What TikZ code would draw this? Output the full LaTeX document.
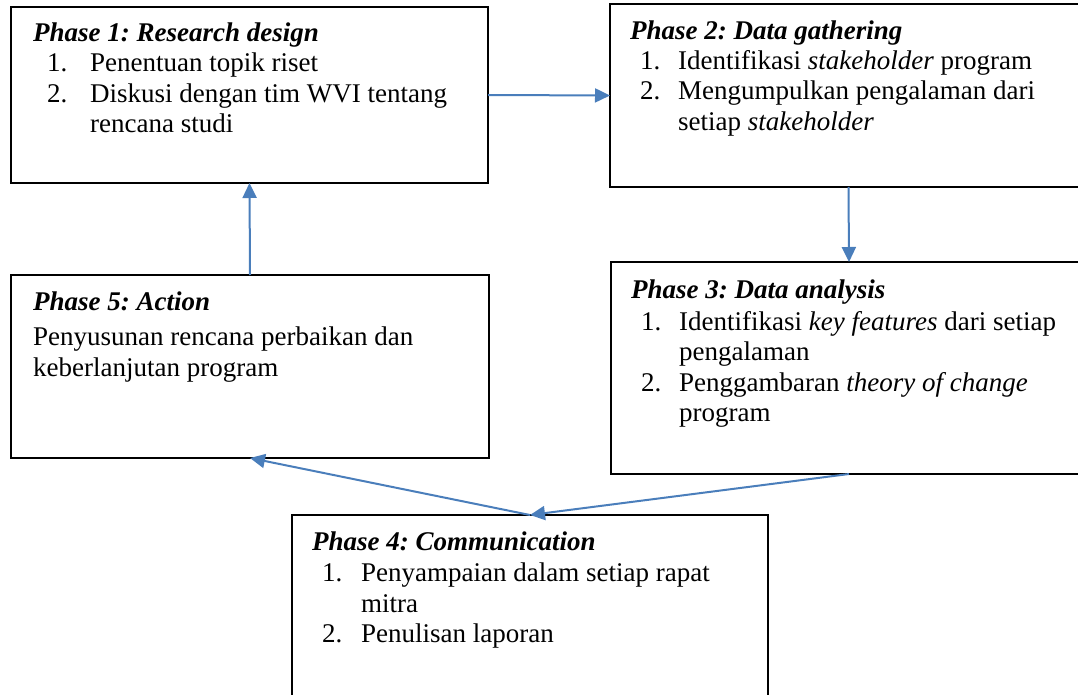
\documentclass[tikz,border=0pt]{standalone}
\usepackage{fontspec}
\setmainfont{Liberation Serif}
\usetikzlibrary{arrows.meta}
\definecolor{arrowblue}{HTML}{4A7EBB}
\frenchspacing
\begin{document}
\begin{tikzpicture}[x=1pt,y=-1pt,
  box/.style={draw=black, line width=1.3pt, inner sep=0pt, outer sep=0pt, anchor=north west},
  conn/.style={draw=arrowblue, line width=2pt, -{Triangle[length=15pt,width=14pt]}},
  txt/.style={anchor=base west, inner sep=0pt, font=\fontsize{27}{31}\selectfont\frenchspacing},
  ttl/.style={anchor=base west, inner sep=0pt, font=\fontsize{27}{31}\selectfont\bfseries\itshape\frenchspacing}]
\useasboundingbox (0,0) rectangle (1078,695);
% boxes
\node[box, minimum width=477pt, minimum height=176pt] (p1) at (11,7) {};
\node[box, minimum width=477pt, minimum height=183pt] (p2) at (610,4) {};
\node[box, minimum width=476pt, minimum height=212pt] (p3) at (611,262) {};
\node[box, minimum width=476pt, minimum height=190pt] (p4) at (292,515) {};
\node[box, minimum width=478pt, minimum height=183pt] (p5) at (11,275) {};
% phase 1
\node[ttl] (p1t) at (33,42) {Phase 1: Research design};
\node[txt] (p1n1) at (47,72) {1.};
\node[txt] (p1a) at (90,72) {Penentuan topik riset};
\node[txt] (p1n2) at (47,103) {2.};
\node[txt] (p1b) at (90,103) {Diskusi dengan tim WVI tentang};
\node[txt] (p1c) at (90,133) {rencana studi};
% phase 2
\node[ttl] (p2t) at (630,40) {Phase 2: Data gathering};
\node[txt] (p2n1) at (640,70) {1.};
\node[txt] (p2a) at (678,70) {Identifikasi \textit{stakeholder} program};
\node[txt] (p2n2) at (640,100) {2.};
\node[txt] (p2b) at (678,100) {Mengumpulkan pengalaman dari};
\node[txt] (p2c) at (678,131) {setiap \textit{stakeholder}};
% phase 3
\node[ttl] (p3t) at (631,298) {Phase 3: Data analysis};
\node[txt] (p3n1) at (641,330) {1.};
\node[txt] (p3a) at (679,330) {Identifikasi \textit{key features} dari setiap};
\node[txt] (p3b) at (679,360) {pengalaman};
\node[txt] (p3n2) at (641,391) {2.};
\node[txt] (p3c) at (679,391) {Penggambaran \textit{theory of change}};
\node[txt] (p3d) at (679,421) {program};
% phase 4
\node[ttl] (p4t) at (312,550) {Phase 4: Communication};
\node[txt] (p4n1) at (322,581) {1.};
\node[txt] (p4a) at (361,581) {Penyampaian dalam setiap rapat};
\node[txt] (p4b) at (361,612) {mitra};
\node[txt] (p4n2) at (322,642) {2.};
\node[txt] (p4c) at (361,642) {Penulisan laporan};
% phase 5
\node[ttl] (p5t) at (33,310) {Phase 5: Action};
\node[txt] (p5a) at (33,345) {Penyusunan rencana perbaikan dan};
\node[txt] (p5b) at (33,376) {keberlanjutan program};
% connectors
\draw[conn] (p1.east) -- (p2.west);
\draw[conn] (p2.south) -- (p3.north);
\draw[conn] (p3.south) -- (p4.north);
\draw[conn] (p4.north) -- (p5.south);
\draw[conn] (p5.north) -- (p1.south);
\end{tikzpicture}
\end{document}
